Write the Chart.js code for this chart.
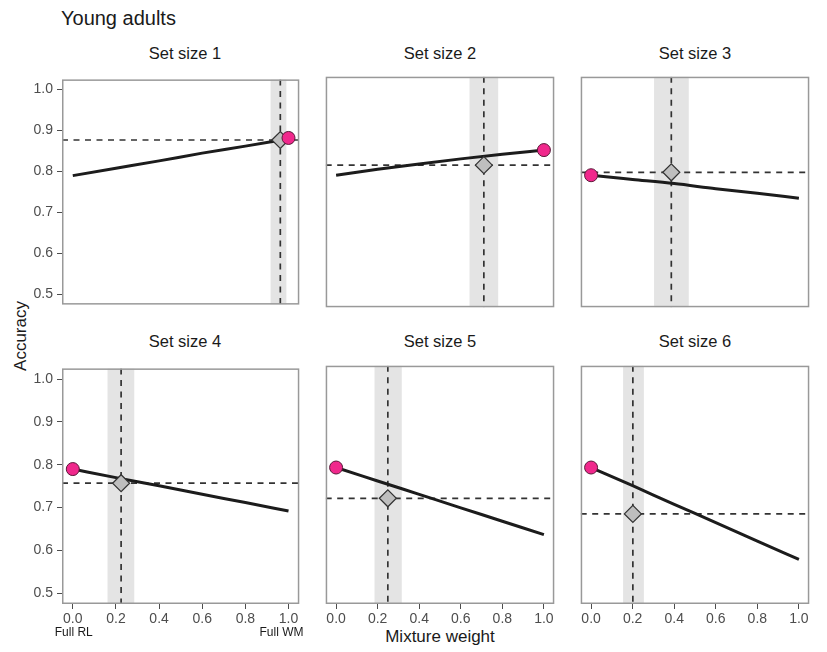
<!DOCTYPE html>
<html><head><meta charset="utf-8">
<script src="https://cdn.jsdelivr.net/npm/chart.js@4.4.1/dist/chart.umd.min.js"></script>
<style>
body{margin:0;background:#fff;width:827px;height:652px;position:relative;overflow:hidden;font-family:"Liberation Sans",Arial,sans-serif;}
canvas{position:absolute;}
.t{position:absolute;color:#1a1a1a;white-space:nowrap;line-height:1;}
</style></head><body>
<div class="t" style="left:61px;top:8px;font-size:20px;">Young adults</div>
<div class="t" style="left:440px;top:628px;font-size:17px;transform:translateX(-50%);">Mixture weight</div>
<div class="t" style="left:20px;top:336px;font-size:17px;transform:translate(-50%,-50%) rotate(-90deg);">Accuracy</div>
<div id="wrap"></div>
<script>
const panelTitles = ['Set size 1','Set size 2','Set size 3','Set size 4','Set size 5','Set size 6'];
const mixX = [0, 0.2, 0.4, 0.6, 0.8, 1.0];
const accSS1 = [0.790, 0.808, 0.826, 0.845, 0.862, 0.880];
const accSS2 = [0.790, 0.804, 0.817, 0.829, 0.840, 0.850];
const accSS3 = [0.790, 0.780, 0.770, 0.758, 0.747, 0.735];
const accSS4 = [0.790, 0.770, 0.751, 0.731, 0.712, 0.692];
const accSS5 = [0.790, 0.759, 0.728, 0.697, 0.666, 0.635];
const accSS6 = [0.790, 0.748, 0.705, 0.663, 0.620, 0.578];
const estWeight = [0.962, 0.711, 0.386, 0.224, 0.249, 0.201];
const estAcc    = [0.877, 0.814, 0.797, 0.757, 0.719, 0.683];
const bandLo    = [0.917, 0.642, 0.303, 0.161, 0.185, 0.154];
const bandHi    = [0.990, 0.780, 0.470, 0.285, 0.316, 0.254];
const obsWeight = [1, 1, 0, 0, 0, 0];
const obsAcc    = [0.882, 0.850, 0.790, 0.790, 0.790, 0.790];
const yTicks = [0.5, 0.6, 0.7, 0.8, 0.9, 1.0];
const xTicks = [0, 0.2, 0.4, 0.6, 0.8, 1.0];
const lineSeries = [accSS1, accSS2, accSS3, accSS4, accSS5, accSS6];

const colLeft = [62, 317, 572], boxW = 246;
const rowTop = [68, 357], boxH = [248, 247];
const stripY = [45, 333];

const facetPlugin = {
  id: 'facet',
  beforeDatasetsDraw(chart, args, opts) {
    const i = opts.idx;
    const {ctx, chartArea: a, scales: {x, y}} = chart;
    ctx.save();
    ctx.beginPath(); ctx.rect(a.left, a.top, a.right - a.left, a.bottom - a.top); ctx.clip();
    ctx.fillStyle = '#e4e4e4';
    const x0 = x.getPixelForValue(bandLo[i]), x1 = x.getPixelForValue(bandHi[i]);
    ctx.fillRect(x0, a.top, x1 - x0, a.bottom - a.top);
    ctx.setLineDash([6, 5.5]);
    ctx.strokeStyle = '#333333';
    ctx.lineWidth = 1.7;
    const vx = x.getPixelForValue(estWeight[i]);
    ctx.beginPath(); ctx.moveTo(vx, a.top); ctx.lineTo(vx, a.bottom); ctx.stroke();
    const hy = y.getPixelForValue(estAcc[i]);
    ctx.beginPath(); ctx.moveTo(a.left, hy); ctx.lineTo(a.right, hy); ctx.stroke();
    ctx.restore();
  },
  afterDraw(chart, args, opts) {
    const i = opts.idx;
    const {ctx, chartArea: a, scales: {x}} = chart;
    ctx.save();
    ctx.strokeStyle = '#999999';
    ctx.lineWidth = 1.5;
    ctx.strokeRect(a.left + 0.75, a.top + 0.75, a.right - a.left - 1.5, a.bottom - a.top - 1.5);
    if (i === 3) {
      ctx.fillStyle = '#1a1a1a';
      ctx.font = '12px "Liberation Sans", Arial, sans-serif';
      ctx.textBaseline = 'middle';
      ctx.textAlign = 'left';
      ctx.fillText('Full RL', x.getPixelForValue(0) - 18, a.bottom + 29);
      ctx.textAlign = 'right';
      ctx.fillText('Full WM', x.getPixelForValue(1) + 15, a.bottom + 29);
    }
    ctx.restore();
  }
};

const wrap = document.getElementById('wrap');
for (let i = 0; i < 6; i++) {
  const r = Math.floor(i / 3), c = i % 3;
  const showX = r === 1, showY = c === 0;
  const leftExtra = showY ? 62 : 1;
  const bottomExtra = showX ? 45 : 1;
  const cv = document.createElement('canvas');
  const W = boxW + leftExtra + 1, H = boxH[r] + 1 + bottomExtra;
  cv.width = W; cv.height = H;
  cv.style.width = W + 'px'; cv.style.height = H + 'px';
  cv.style.left = (colLeft[c] - leftExtra) + 'px';
  cv.style.top = (rowTop[r] - 1) + 'px';
  wrap.appendChild(cv);

  const st = document.createElement('div');
  st.className = 't';
  st.style.cssText = `left:${colLeft[c] + boxW / 2}px;top:${stripY[r]}px;font-size:16.5px;transform:translateX(-50%);`;
  st.textContent = panelTitles[i];
  wrap.appendChild(st);

  new Chart(cv, {
    type: 'line',
    data: {
      datasets: [
        {
          type: 'scatter', order: 1,
          data: [{x: obsWeight[i], y: obsAcc[i]}],
          pointStyle: 'circle', pointRadius: 6.5,
          backgroundColor: '#f0288c', borderColor: '#5a1838', borderWidth: 1
        },
        {
          type: 'scatter', order: 2,
          data: [{x: estWeight[i], y: estAcc[i]}],
          pointStyle: 'rectRot', pointRadius: 8.5,
          backgroundColor: '#bebebe', borderColor: '#333333', borderWidth: 1.2
        },
        {
          type: 'line', order: 3,
          data: mixX.map((v, k) => ({x: v, y: lineSeries[i][k]})),
          borderColor: '#1c1c1c', borderWidth: 3, pointRadius: 0,
          cubicInterpolationMode: 'monotone', fill: false
        }
      ]
    },
    options: {
      responsive: false, animation: false, devicePixelRatio: 1,
      layout: {padding: {left: showY ? 0 : 1, right: 1, top: 1, bottom: showX ? 0 : 1}},
      plugins: {legend: {display: false}, tooltip: {enabled: false}, facet: {idx: i}},
      scales: {
        x: {
          type: 'linear', min: -0.05, max: 1.05, display: showX,
          afterBuildTicks: s => { s.ticks = xTicks.map(v => ({value: v})); },
          afterFit: s => { s.height = showX ? 45 : 0; },
          ticks: {callback: v => Number(v).toFixed(1), color: '#4d4d4d', font: {size: 14, family: '"Liberation Sans", Arial, sans-serif'}, padding: 2, maxRotation: 0, autoSkip: false},
          grid: {drawOnChartArea: false, drawTicks: true, tickLength: 5, color: '#4d4d4d'},
          border: {display: false}
        },
        y: {
          type: 'linear', min: 0.475, max: 1.025, display: showY,
          afterBuildTicks: s => { s.ticks = yTicks.map(v => ({value: v})); },
          afterFit: s => { s.width = showY ? 62 : 0; },
          ticks: {callback: v => Number(v).toFixed(1), color: '#4d4d4d', font: {size: 14, family: '"Liberation Sans", Arial, sans-serif'}, padding: 4},
          grid: {drawOnChartArea: false, drawTicks: true, tickLength: 5, color: '#4d4d4d'},
          border: {display: false}
        }
      }
    },
    plugins: [facetPlugin]
  });
}
</script>
</body></html>
